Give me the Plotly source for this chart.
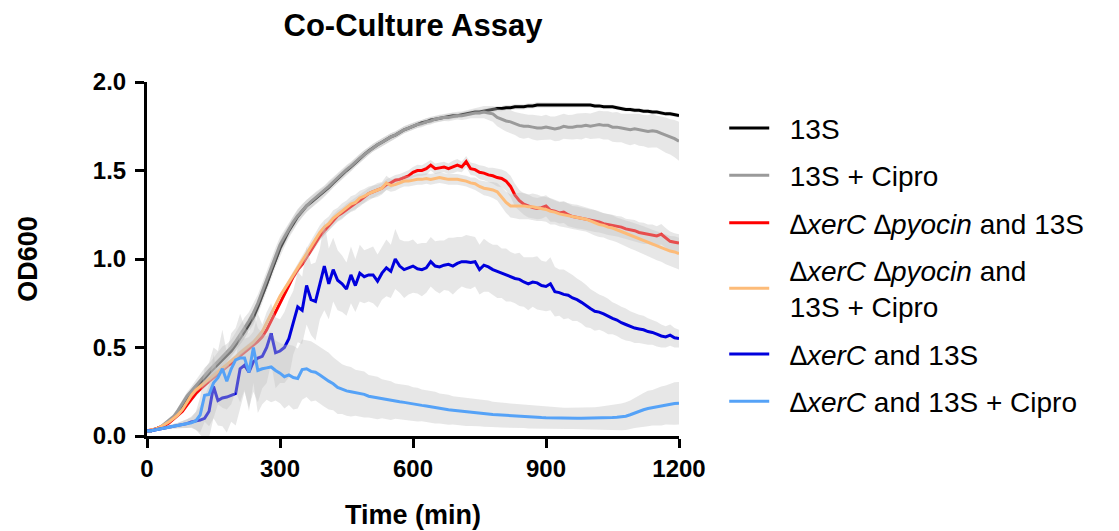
import plotly.graph_objects as go

# ---------------- data (OD600 means and SD, every 10 min) ----------------
time_min = list(range(0, 1201, 10))

od_13s = [
    .03, .03, .04, .05, .06, .08, .10, .13, .17, .21,
    .24, .27, .30, .33, .355, .38, .405, .43, .45, .48,
    .515, .55, .59, .63, .67, .73, .79, .86, .93, 1.00,
    1.06, 1.11, 1.16, 1.20, 1.24, 1.27, 1.30, 1.32, 1.34, 1.36,
    1.38, 1.405, 1.43, 1.455, 1.48, 1.50, 1.52, 1.545, 1.57, 1.59,
    1.61, 1.63, 1.645, 1.66, 1.675, 1.69, 1.70, 1.715, 1.73, 1.74,
    1.75, 1.76, 1.77, 1.775, 1.785, 1.79, 1.795, 1.80, 1.805, 1.81,
    1.81, 1.815, 1.82, 1.825, 1.83, 1.83, 1.835, 1.84, 1.845, 1.85,
    1.85, 1.855, 1.855, 1.86, 1.86, 1.86, 1.865, 1.865, 1.87, 1.87,
    1.87, 1.87, 1.87, 1.87, 1.87, 1.87, 1.87, 1.87, 1.87, 1.87,
    1.87, 1.865, 1.865, 1.86, 1.86, 1.86, 1.855, 1.85, 1.845, 1.845,
    1.84, 1.84, 1.835, 1.835, 1.83, 1.83, 1.825, 1.82, 1.82, 1.815,
    1.81]
sd_13s = [
    .005, .005, .005, .006, .008, .01, .012, .015, .02, .02,
    .022, .025, .025, .028, .03, .03, .03, .032, .032, .035,
    .035, .037, .04, .04, .042, .045, .045, .045, .045, .045,
    .045, .042, .04, .04, .038, .036, .035, .034, .033, .032,
    .03, .03, .028, .028, .027, .026, .025, .025, .024, .024,
    .023, .023, .022, .022, .021, .021, .02, .02, .02, .02,
    .019, .019, .018, .018, .018, .017, .017, .017, .016, .016,
    .015, .015, .015, .015, .015, .015, .015, .015, .015, .015,
    .015, .015, .015, .015, .015, .015, .015, .015, .015, .015,
    .012, .012, .012, .012, .012, .012, .012, .012, .012, .012,
    .012, .012, .012, .012, .012, .012, .012, .012, .012, .012,
    .012, .012, .012, .012, .012, .012, .012, .012, .012, .012,
    .012]

od_13s_cipro = [
    .03, .03, .04, .05, .07, .09, .11, .145, .185, .225,
    .255, .285, .315, .345, .37, .395, .42, .445, .47, .50,
    .535, .57, .61, .65, .695, .75, .815, .885, .95, 1.02,
    1.08, 1.125, 1.17, 1.21, 1.245, 1.275, 1.30, 1.325, 1.345, 1.365,
    1.385, 1.41, 1.435, 1.46, 1.48, 1.505, 1.525, 1.55, 1.57, 1.59,
    1.61, 1.63, 1.645, 1.66, 1.675, 1.69, 1.70, 1.715, 1.73, 1.74,
    1.75, 1.76, 1.765, 1.775, 1.78, 1.79, 1.795, 1.80, 1.80, 1.805,
    1.81, 1.81, 1.815, 1.82, 1.825, 1.825, 1.83, 1.825, 1.82, 1.80,
    1.79, 1.78, 1.775, 1.765, 1.755, 1.75, 1.75, 1.745, 1.74, 1.74,
    1.745, 1.74, 1.735, 1.74, 1.75, 1.745, 1.745, 1.75, 1.75, 1.755,
    1.75, 1.755, 1.76, 1.755, 1.755, 1.745, 1.745, 1.74, 1.735, 1.73,
    1.735, 1.73, 1.725, 1.72, 1.725, 1.72, 1.71, 1.70, 1.69, 1.68,
    1.665]
sd_13s_cipro = [
    .005, .005, .006, .007, .01, .012, .015, .018, .02, .022,
    .025, .03, .035, .04, .04, .045, .05, .06, .05, .045,
    .05, .055, .06, .05, .055, .05, .05, .05, .045, .045,
    .045, .04, .04, .04, .038, .036, .035, .034, .033, .032,
    .03, .03, .028, .028, .027, .026, .025, .025, .024, .024,
    .023, .023, .022, .022, .021, .021, .02, .02, .02, .02,
    .02, .02, .02, .02, .02, .02, .02, .02, .022, .022,
    .022, .024, .025, .025, .028, .03, .035, .04, .045, .05,
    .055, .06, .065, .065, .07, .07, .065, .07, .07, .068,
    .07, .065, .07, .072, .07, .068, .07, .072, .075, .07,
    .072, .075, .078, .08, .08, .082, .085, .08, .085, .088,
    .085, .09, .088, .092, .095, .09, .095, .10, .10, .105,
    .11]

od_dxerc_dpyo = [
    .03, .035, .04, .05, .06, .075, .095, .115, .14, .175,
    .21, .24, .265, .29, .31, .33, .35, .37, .39, .41,
    .43, .455, .475, .495, .515, .535, .56, .60, .65, .70,
    .75, .80, .85, .90, .94, .97, 1.01, 1.05, 1.09, 1.13,
    1.16, 1.19, 1.22, 1.245, 1.26, 1.28, 1.30, 1.315, 1.33, 1.35,
    1.37, 1.38, 1.39, 1.40, 1.42, 1.43, 1.445, 1.45, 1.46, 1.47,
    1.49, 1.50, 1.50, 1.51, 1.53, 1.51, 1.515, 1.52, 1.51, 1.52,
    1.53, 1.52, 1.55, 1.51, 1.505, 1.49, 1.485, 1.475, 1.47, 1.46,
    1.455, 1.44, 1.41, 1.36, 1.33, 1.31, 1.30, 1.29, 1.285, 1.29,
    1.30, 1.275, 1.27, 1.26, 1.265, 1.25, 1.24, 1.235, 1.23, 1.225,
    1.22, 1.215, 1.21, 1.20, 1.195, 1.19, 1.185, 1.18, 1.17, 1.165,
    1.16, 1.15, 1.145, 1.14, 1.135, 1.13, 1.14, 1.12, 1.10, 1.095,
    1.09]
sd_dxerc_dpyo = [
    .005, .005, .006, .007, .008, .01, .01, .012, .012, .015,
    .015, .015, .015, .015, .015, .015, .015, .015, .015, .015,
    .015, .015, .015, .015, .015, .015, .015, .015, .015, .015,
    .015, .015, .018, .018, .02, .02, .022, .022, .025, .025,
    .025, .028, .03, .03, .03, .032, .03, .032, .035, .03,
    .03, .035, .03, .03, .03, .032, .03, .03, .03, .032,
    .03, .032, .03, .035, .03, .03, .032, .03, .03, .035,
    .035, .03, .032, .035, .035, .04, .04, .04, .045, .05,
    .05, .055, .06, .065, .06, .06, .065, .06, .06, .062,
    .06, .065, .06, .06, .062, .065, .06, .062, .06, .06,
    .06, .062, .06, .058, .06, .06, .058, .06, .058, .06,
    .06, .058, .06, .055, .06, .055, .058, .055, .055, .05,
    .05]

od_dxerc_dpyo_cipro = [
    .03, .035, .04, .05, .065, .08, .10, .12, .15, .19,
    .23, .26, .28, .30, .32, .34, .36, .38, .40, .425,
    .445, .47, .49, .51, .53, .56, .59, .64, .69, .74,
    .79, .83, .87, .91, .95, .99, 1.03, 1.07, 1.11, 1.15,
    1.18, 1.20, 1.23, 1.25, 1.27, 1.29, 1.31, 1.32, 1.345, 1.355,
    1.37, 1.38, 1.39, 1.40, 1.43, 1.415, 1.42, 1.43, 1.44, 1.44,
    1.445, 1.45, 1.45, 1.455, 1.45, 1.455, 1.46, 1.455, 1.45, 1.45,
    1.45, 1.445, 1.44, 1.43, 1.425, 1.41, 1.40, 1.395, 1.39, 1.38,
    1.35, 1.32, 1.30, 1.30, 1.30, 1.30, 1.295, 1.295, 1.29, 1.285,
    1.28, 1.27, 1.265, 1.255, 1.25, 1.245, 1.24, 1.235, 1.23, 1.225,
    1.215, 1.205, 1.195, 1.19, 1.18, 1.175, 1.165, 1.155, 1.145, 1.135,
    1.125, 1.115, 1.105, 1.095, 1.085, 1.075, 1.065, 1.055, 1.045, 1.04,
    1.03]
sd_dxerc_dpyo_cipro = [
    .005, .005, .006, .007, .008, .01, .01, .012, .012, .015,
    .015, .015, .015, .015, .015, .015, .015, .015, .015, .015,
    .015, .015, .015, .015, .015, .015, .015, .015, .015, .015,
    .015, .015, .018, .02, .025, .03, .03, .035, .035, .04,
    .04, .04, .045, .04, .045, .04, .045, .045, .04, .04,
    .04, .035, .04, .035, .04, .035, .035, .03, .03, .03,
    .03, .03, .03, .03, .03, .03, .03, .03, .03, .03,
    .03, .03, .03, .03, .035, .035, .04, .04, .045, .05,
    .055, .06, .065, .07, .075, .075, .07, .075, .075, .07,
    .07, .075, .07, .07, .072, .07, .07, .072, .07, .07,
    .07, .072, .07, .068, .07, .072, .07, .07, .072, .075,
    .075, .078, .08, .078, .08, .082, .08, .085, .085, .088,
    .09]

od_dxerc = [
    .03, .03, .035, .04, .045, .05, .055, .06, .065, .07,
    .08, .085, .09, .10, .14, .28, .20, .215, .22, .23,
    .24, .38, .40, .36, .42, .44, .45, .50, .58, .47,
    .48, .50, .55, .64, .73, .71, .85, .77, .76, .86,
    .96, .86, .94, .88, .86, .83, .91, .85, .92, .90,
    .91, .91, .875, .92, .95, .93, 1.00, .96, .94, .95,
    .96, .945, .94, .95, .985, .96, .955, .965, .97, .96,
    .975, .985, .985, .98, .985, .94, .965, .955, .94, .93,
    .92, .91, .90, .89, .885, .87, .86, .87, .865, .85,
    .845, .86, .815, .81, .80, .795, .78, .77, .755, .735,
    .72, .705, .70, .69, .675, .665, .655, .64, .63, .62,
    .61, .605, .60, .59, .585, .575, .565, .56, .57, .555,
    .55]
sd_dxerc = [
    .005, .005, .006, .007, .008, .01, .012, .015, .02, .025,
    .03, .05, .08, .12, .15, .18, .14, .16, .20, .15,
    .18, .22, .15, .20, .17, .25, .18, .20, .17, .20,
    .18, .20, .22, .18, .20, .19, .22, .20, .22, .20,
    .25, .20, .18, .17, .16, .15, .16, .15, .16, .15,
    .15, .16, .15, .15, .16, .15, .17, .15, .16, .15,
    .15, .14, .15, .14, .14, .14, .15, .14, .15, .16,
    .15, .14, .15, .15, .14, .14, .15, .14, .14, .15,
    .14, .15, .14, .14, .15, .14, .15, .14, .15, .14,
    .14, .15, .14, .13, .14, .13, .13, .12, .12, .12,
    .11, .11, .10, .10, .10, .09, .09, .09, .09, .085,
    .085, .08, .08, .075, .07, .07, .065, .06, .06, .055,
    .05]

od_dxerc_cipro = [
    .03, .03, .035, .04, .045, .05, .055, .06, .065, .07,
    .075, .085, .12, .23, .235, .30, .33, .38, .31, .38,
    .43, .44, .44, .36, .50, .37, .38, .385, .39, .37,
    .355, .335, .345, .33, .325, .375, .38, .365, .36, .345,
    .325, .31, .295, .275, .265, .255, .25, .245, .24, .235,
    .225, .22, .215, .21, .205, .20, .197, .193, .19, .185,
    .18, .177, .173, .17, .165, .16, .155, .152, .148, .145,
    .142, .14, .137, .134, .132, .13, .127, .125, .122, .12,
    .118, .116, .115, .113, .111, .11, .108, .107, .105, .104,
    .103, .102, .101, .10, .10, .10, .10, .10, .10, .10,
    .10, .10, .101, .102, .103, .104, .106, .108, .112, .12,
    .13, .14, .148, .155, .16, .165, .17, .175, .178, .183,
    .185]
sd_dxerc_cipro = [
    .005, .005, .006, .007, .008, .01, .012, .015, .02, .025,
    .03, .05, .10, .15, .18, .20, .15, .22, .16, .20,
    .18, .25, .18, .22, .20, .24, .20, .18, .20, .17,
    .17, .18, .17, .18, .17, .17, .16, .17, .16, .16,
    .16, .16, .15, .15, .14, .14, .14, .13, .13, .13,
    .12, .12, .12, .11, .11, .11, .10, .10, .10, .10,
    .095, .095, .09, .09, .09, .09, .085, .085, .085, .08,
    .08, .08, .08, .078, .078, .075, .075, .075, .072, .07,
    .07, .07, .068, .068, .066, .065, .065, .064, .063, .062,
    .062, .06, .06, .06, .06, .06, .06, .06, .06, .06,
    .06, .062, .064, .066, .068, .07, .072, .075, .078, .08,
    .085, .09, .095, .10, .10, .105, .11, .11, .115, .12,
    .12]

PAD = "\u00a0\u00a0"
series_names = [
    PAD + "13S",
    PAD + "13S + Cipro",
    PAD + "<i>∆xerC ∆pyocin</i> and 13S",
    PAD + "<i>∆xerC ∆pyocin</i> and<br>" + PAD + "13S + Cipro",
    PAD + "<i>∆xerC</i> and 13S",
    PAD + "<i>∆xerC</i> and 13S + Cipro",
]
series_means = [od_13s, od_13s_cipro, od_dxerc_dpyo, od_dxerc_dpyo_cipro, od_dxerc, od_dxerc_cipro]
series_sds = [sd_13s, sd_13s_cipro, sd_dxerc_dpyo, sd_dxerc_dpyo_cipro, sd_dxerc, sd_dxerc_cipro]
series_colors = ["#000000", "#9a9a9a", "#ff0000", "#fdbb78", "#0000dd", "#55a2f7"]

x_ticks = [0, 300, 600, 900, 1200]
y_ticks = [0.0, 0.5, 1.0, 1.5, 2.0]

FONT = "Liberation Sans, Arial, Helvetica, sans-serif"
BAND = "rgba(195,195,195,0.40)"

fig = go.Figure()
for i, (name, mean, sd, col) in enumerate(zip(series_names, series_means, series_sds, series_colors)):
    upper = [m + s for m, s in zip(mean, sd)]
    lower = [m - s for m, s in zip(mean, sd)]
    fig.add_trace(go.Scatter(
        x=time_min + time_min[::-1], y=upper + lower[::-1],
        fill="toself", fillcolor=BAND, line=dict(width=0),
        mode="lines", showlegend=False, hoverinfo="skip",
        legendgroup="g%d" % i))
    fig.add_trace(go.Scatter(
        x=time_min, y=mean, mode="lines", name=name,
        line=dict(color=col, width=3),
        legendgroup="g%d" % i))

axis_common = dict(
    showline=True, linecolor="black", linewidth=3,
    ticks="outside", ticklen=9, tickwidth=3, tickcolor="black",
    showgrid=False, zeroline=False,
    tickfont=dict(family=FONT, size=24, color="black", weight="bold"),
)

fig.update_layout(
    width=1119, height=531, autosize=False,
    paper_bgcolor="white", plot_bgcolor="white",
    margin=dict(l=139, r=448, t=74, b=103),
    title=dict(text="<b>Co-Culture Assay</b>", x=0.5, xref="paper",
               y=1 - 17 / 531, yref="container", yanchor="middle", xanchor="center",
               font=dict(family=FONT, size=31, color="black")),
    xaxis=dict(range=[0, 1200], tickvals=x_ticks,
               title=dict(text="<b>Time (min)</b>", standoff=25,
                          font=dict(family=FONT, size=27, color="black")),
               **axis_common),
    yaxis=dict(range=[0, 2.0], tickvals=y_ticks, tickformat=".1f",
               ticklabelstandoff=4,
               title=dict(text="<b>OD600</b>", standoff=48,
                          font=dict(family=FONT, size=27, color="black")),
               **axis_common),
    legend=dict(x=1.085, y=0.94, xanchor="left", yanchor="top",
                font=dict(family=FONT, size=28, color="black"),
                tracegroupgap=8, traceorder="grouped", itemwidth=40,
                bgcolor="rgba(0,0,0,0)"),
    showlegend=True,
)

fig.write_html("out.html")
